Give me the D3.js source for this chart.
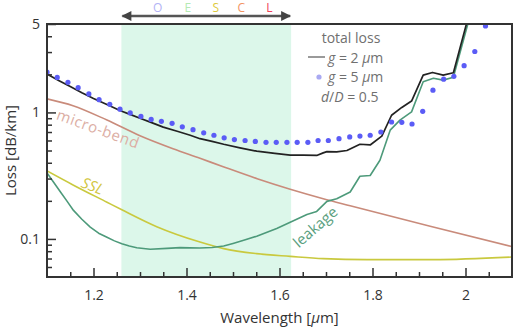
<!DOCTYPE html>
<html>
<head>
<meta charset="utf-8">
<script src="https://cdn.jsdelivr.net/npm/d3@7"></script>
<style>
  body { margin: 0; background: #fff; }
  text { font-family: "Open Sans", "Noto Sans", sans-serif; }
</style>
</head>
<body>
<div id="chart"></div>
<script>
// g = 5 um total loss (dots)
const dotWl = [1.100, 1.122, 1.145, 1.167, 1.190, 1.212, 1.235, 1.257, 1.279, 1.302,
  1.324, 1.346, 1.369, 1.391, 1.414, 1.437, 1.459, 1.481, 1.503, 1.526,
  1.548, 1.571, 1.593, 1.616, 1.638, 1.661, 1.683, 1.705, 1.728, 1.751,
  1.773, 1.795, 1.818, 1.841, 1.863, 1.885, 1.908, 1.930, 1.953, 1.975,
  1.997, 2.020, 2.043];
const dotLoss = [2.08, 1.89, 1.73, 1.57, 1.40, 1.26, 1.16, 1.06, 0.99, 0.93,
  0.88, 0.85, 0.82, 0.77, 0.73, 0.69, 0.66, 0.63, 0.61, 0.60,
  0.59, 0.58, 0.58, 0.58, 0.58, 0.58, 0.60, 0.60, 0.62, 0.64,
  0.65, 0.66, 0.70, 0.84, 0.835, 0.81, 1.02, 1.50, 1.83, 1.93,
  2.34, 3.03, 4.82];

// g = 2 um total loss (black line)
const totalWl = [1.100, 1.125, 1.150, 1.175, 1.200, 1.230, 1.258, 1.280, 1.300, 1.325,
  1.350, 1.380, 1.408, 1.429, 1.455, 1.480, 1.515, 1.551, 1.590, 1.623,
  1.651, 1.680, 1.694, 1.702, 1.723, 1.745, 1.773, 1.795, 1.820, 1.841,
  1.863, 1.884, 1.909, 1.929, 1.952, 1.974, 2.003, 2.030];
const totalLoss = [2.01, 1.79, 1.60, 1.43, 1.29, 1.15, 1.03, 0.96, 0.90, 0.83,
  0.765, 0.71, 0.66, 0.62, 0.59, 0.56, 0.525, 0.494, 0.475, 0.46,
  0.459, 0.457, 0.479, 0.49, 0.487, 0.50, 0.56, 0.553, 0.65, 0.95,
  1.095, 1.23, 1.97, 2.07, 1.97, 2.06, 5.16, 10];

const leakWl = [1.100, 1.115, 1.129, 1.143, 1.157, 1.175, 1.193, 1.211, 1.229, 1.245,
  1.261, 1.277, 1.293, 1.322, 1.358, 1.386, 1.429, 1.455, 1.480, 1.500,
  1.523, 1.551, 1.594, 1.630, 1.659, 1.680, 1.702, 1.723, 1.752, 1.773,
  1.795, 1.816, 1.838, 1.859, 1.884, 1.909, 1.931, 1.952, 1.974, 2.006,
  2.030];
const leakLoss = [0.332, 0.278, 0.235, 0.199, 0.168, 0.143, 0.124, 0.111, 0.103, 0.0965,
  0.0915, 0.0878, 0.0852, 0.0828, 0.0842, 0.0853, 0.0847, 0.0855, 0.0878, 0.092,
  0.0975, 0.105, 0.121, 0.139, 0.156, 0.165, 0.198, 0.208, 0.235, 0.313,
  0.317, 0.419, 0.724, 0.87, 1.01, 1.75, 1.86, 1.80, 1.90, 5.16,
  10];

const bendWl = [1.100, 1.156, 1.229, 1.300, 1.371, 1.429, 1.479, 1.552, 1.623, 1.694, 1.752, 1.924, 2.100];
const bendLoss = [1.28, 1.13, 0.87, 0.655, 0.517, 0.434, 0.372, 0.299, 0.247, 0.208, 0.183, 0.126, 0.087];

const sslWl = [1.100, 1.157, 1.229, 1.261, 1.336, 1.429, 1.480, 1.551, 1.623, 1.694, 1.788, 1.931, 2.100];
const sslLoss = [0.345, 0.266, 0.195, 0.170, 0.125, 0.0945, 0.0838, 0.0765, 0.0728, 0.0698, 0.0686, 0.0686, 0.0719];

const xTicks = [1.2, 1.4, 1.6, 1.8, 2];
const yTicks = [0.1, 1, 5];
const bandNames = ["O", "E", "S", "C", "L"];
const bandPos = [1.338, 1.403, 1.463, 1.518, 1.578];
const bandColors = ["#b3b3f5", "#b5e9b3", "#ddca3c", "#f29462", "#f2425a"];
const window_ = [1.26, 1.625];

const W = 513, H = 328;
const margin = { top: 24, right: 1, bottom: 51, left: 47 };

const svg = d3.select("#chart")
  .append("svg")
  .attr("width", W)
  .attr("height", H);

const x = d3.scaleLinear()
  .domain([1.1, 2.1])
  .range([margin.left, W - margin.right]);

const y = d3.scaleLog()
  .domain([0.05, 5])
  .range([H - margin.bottom, margin.top]);

const defs = svg.append("defs");
defs.append("clipPath")
  .attr("id", "clip")
  .append("rect")
  .attr("x", margin.left)
  .attr("y", margin.top)
  .attr("width", W - margin.right - margin.left)
  .attr("height", H - margin.bottom - margin.top);

// low-loss window shading
svg.append("rect")
  .attr("x", x(window_[0]))
  .attr("y", margin.top)
  .attr("width", x(window_[1]) - x(window_[0]))
  .attr("height", H - margin.bottom - margin.top)
  .attr("fill", "#dcf7ea");

// arrow + band letters above the plot
defs.append("marker")
  .attr("id", "head")
  .attr("viewBox", "0 0 10 10")
  .attr("refX", 9).attr("refY", 5)
  .attr("markerWidth", 5).attr("markerHeight", 4)
  .attr("orient", "auto-start-reverse")
  .append("path")
  .attr("d", "M0,0L10,5L0,10z")
  .attr("fill", "#444");

svg.append("line")
  .attr("x1", x(window_[0]) + 1).attr("x2", x(window_[1]) - 1)
  .attr("y1", 16).attr("y2", 16)
  .attr("stroke", "#555")
  .attr("stroke-width", 2.5)
  .attr("marker-start", "url(#head)")
  .attr("marker-end", "url(#head)");

svg.selectAll(".band-name")
  .data(bandNames)
  .join("text")
  .attr("class", "band-name")
  .attr("x", (d, i) => x(bandPos[i]))
  .attr("y", 11.5)
  .attr("text-anchor", "middle")
  .attr("font-size", 12)
  .attr("fill", (d, i) => bandColors[i])
  .text(d => d);

const plot = svg.append("g").attr("clip-path", "url(#clip)");

const line = d3.line()
  .x(d => x(d[0]))
  .y(d => y(d[1]));

const smooth = d3.line()
  .x(d => x(d[0]))
  .y(d => y(d[1]))
  .curve(d3.curveMonotoneX);

plot.append("path")
  .datum(d3.zip(bendWl, bendLoss))
  .attr("fill", "none")
  .attr("stroke", "#c98b7b")
  .attr("stroke-width", 1.6)
  .attr("d", smooth);

plot.append("path")
  .datum(d3.zip(sslWl, sslLoss))
  .attr("fill", "none")
  .attr("stroke", "#c9c93e")
  .attr("stroke-width", 1.6)
  .attr("d", smooth);

plot.append("path")
  .datum(d3.zip(leakWl, leakLoss))
  .attr("fill", "none")
  .attr("stroke", "#4d9a7a")
  .attr("stroke-width", 1.6)
  .attr("stroke-linejoin", "round")
  .attr("d", line);

plot.append("path")
  .datum(d3.zip(totalWl, totalLoss))
  .attr("fill", "none")
  .attr("stroke", "#222")
  .attr("stroke-width", 1.7)
  .attr("stroke-linejoin", "round")
  .attr("d", line);

plot.selectAll(".dot")
  .data(d3.zip(dotWl, dotLoss))
  .join("circle")
  .attr("class", "dot")
  .attr("cx", d => x(d[0]))
  .attr("cy", d => y(d[1]))
  .attr("r", 2.6)
  .attr("fill", "#5b5cf6");

// curve labels
svg.append("text")
  .attr("transform", `translate(${x(1.21)},${y(0.74)}) rotate(20)`)
  .attr("text-anchor", "middle")
  .attr("dy", "0.35em")
  .attr("font-size", 15)
  .attr("letter-spacing", 0.6)
  .attr("fill", "#dcaea4")
  .text("micro-bend");

svg.append("text")
  .attr("transform", `translate(${x(1.198)},${y(0.262)}) rotate(22)`)
  .attr("text-anchor", "middle")
  .attr("dy", "0.35em")
  .attr("font-size", 15)
  .attr("font-style", "italic")
  .attr("fill", "#d2c640")
  .text("SSL");

svg.append("text")
  .attr("transform", `translate(${x(1.677)},${y(0.124)}) rotate(-41)`)
  .attr("text-anchor", "middle")
  .attr("dy", "0.35em")
  .attr("font-size", 15)
  .attr("fill", "#5a9f80")
  .text("leakage");

// legend
const leg = svg.append("g").attr("fill", "#707070").attr("font-size", 14);
leg.append("text").attr("x", 351).attr("y", 43).attr("text-anchor", "middle").text("total loss");
leg.append("line")
  .attr("x1", 308).attr("x2", 325).attr("y1", 57).attr("y2", 57)
  .attr("stroke", "#888").attr("stroke-width", 1.7);
const l1 = leg.append("text").attr("x", 328).attr("y", 63);
l1.append("tspan").attr("font-style", "italic").text("g");
l1.append("tspan").text(" = 2 ");
l1.append("tspan").attr("font-style", "italic").text("μ");
l1.append("tspan").text("m");
leg.append("circle").attr("cx", 319).attr("cy", 77).attr("r", 2.6).attr("fill", "#a9a9f2");
const l2 = leg.append("text").attr("x", 328).attr("y", 82);
l2.append("tspan").attr("font-style", "italic").text("g");
l2.append("tspan").text(" = 5 ");
l2.append("tspan").attr("font-style", "italic").text("μ");
l2.append("tspan").text("m");
const l3 = leg.append("text").attr("x", 321).attr("y", 102);
l3.append("tspan").attr("font-style", "italic").text("d");
l3.append("tspan").text("/");
l3.append("tspan").attr("font-style", "italic").text("D");
l3.append("tspan").text(" = 0.5");

// axes
const xMinor = d3.range(1.15, 2.1, 0.05).filter(v => !xTicks.some(t => Math.abs(t - v) < 1e-6));
const yMinor = [0.06, 0.07, 0.08, 0.09, 0.2, 0.3, 0.4, 0.5, 0.6, 0.7, 0.8, 0.9, 2, 3, 4];

svg.append("g")
  .attr("transform", `translate(0,${H - margin.bottom})`)
  .call(d3.axisBottom(x).tickValues(xMinor).tickSize(-5).tickFormat(""))
  .call(g => g.select(".domain").remove())
  .call(g => g.selectAll(".tick line").attr("stroke", "#333").attr("stroke-width", 1.5));

svg.append("g")
  .attr("transform", `translate(0,${H - margin.bottom})`)
  .call(d3.axisBottom(x).tickValues(xTicks).tickSize(-9).tickPadding(13).tickFormat(d3.format("")))
  .call(g => g.select(".domain").remove())
  .call(g => g.selectAll(".tick line").attr("stroke", "#333").attr("stroke-width", 1.5))
  .call(g => g.selectAll(".tick text").attr("font-size", 14).attr("fill", "#333")
    .attr("font-family", "'Open Sans', sans-serif"));

svg.append("g")
  .attr("transform", `translate(${margin.left},0)`)
  .call(d3.axisLeft(y).tickValues(yMinor).tickSize(-5).tickFormat(""))
  .call(g => g.select(".domain").remove())
  .call(g => g.selectAll(".tick line").attr("stroke", "#333").attr("stroke-width", 1.5));

svg.append("g")
  .attr("transform", `translate(${margin.left},0)`)
  .call(d3.axisLeft(y).tickValues(yTicks).tickSize(-9).tickPadding(7).tickFormat(d3.format("")))
  .call(g => g.select(".domain").remove())
  .call(g => g.selectAll(".tick line").attr("stroke", "#333").attr("stroke-width", 1.5))
  .call(g => g.selectAll(".tick text").attr("font-size", 14).attr("fill", "#333")
    .attr("font-family", "'Open Sans', sans-serif"));

// frame
svg.append("rect")
  .attr("x", margin.left)
  .attr("y", margin.top)
  .attr("width", W - margin.right - margin.left)
  .attr("height", H - margin.bottom - margin.top)
  .attr("fill", "none")
  .attr("stroke", "#333")
  .attr("stroke-width", 2);

svg.append("text")
  .attr("x", (margin.left + W - margin.right) / 2)
  .attr("y", 323)
  .attr("text-anchor", "middle")
  .attr("font-size", 15)
  .attr("fill", "#333")
  .call(t => {
    t.append("tspan").text("Wavelength [");
    t.append("tspan").attr("font-style", "italic").text("μ");
    t.append("tspan").text("m]");
  });

svg.append("text")
  .attr("transform", `translate(16,${(margin.top + H - margin.bottom) / 2}) rotate(-90)`)
  .attr("text-anchor", "middle")
  .attr("font-size", 15)
  .attr("fill", "#333")
  .text("Loss [dB/km]");
</script>
</body>
</html>
